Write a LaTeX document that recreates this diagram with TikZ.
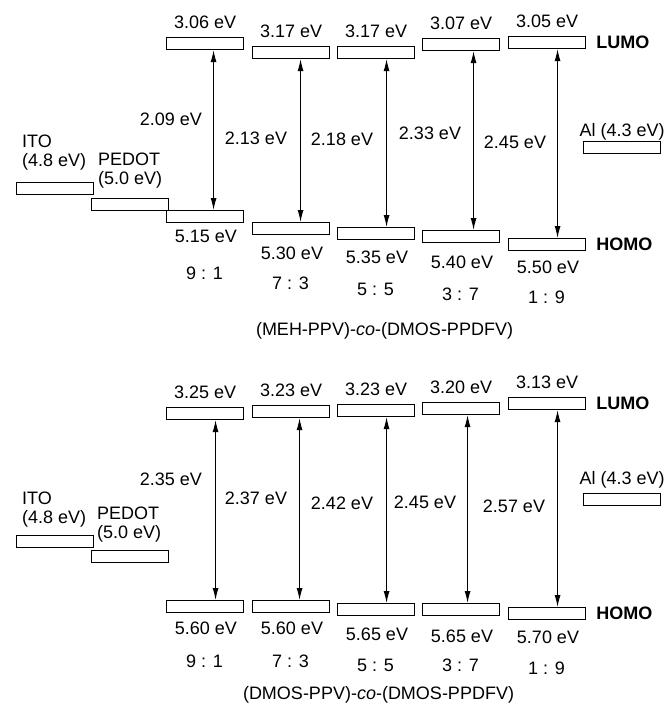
\documentclass[tikz,border=0pt]{standalone}
\usepackage{fontspec}
\setmainfont{Liberation Sans}
\usetikzlibrary{arrows.meta}
\begin{document}
\begin{tikzpicture}[x=1pt,y=-1pt,
	level/.style={ rectangle, draw, line width=1.1pt, inner sep=0pt, minimum width=77pt, minimum height=12pt, anchor=north west },
	energy/.style={ font=\fontsize{18}{19}\selectfont, inner sep=0pt },
	orbital/.style={ font=\fontsize{18}{19}\selectfont\bfseries, inner sep=0pt, anchor=west },
	gap/.style={ line width=1pt, {Latex[length=12pt,width=6pt]}-{Latex[length=12pt,width=6pt]} }
]
\useasboundingbox (0,0) rectangle (669,706);

% upper panel: (MEH-PPV)-co-(DMOS-PPDFV)
\foreach \n/\x/\lu/\ho/\ax/\hy/\ry/\lv/\hv/\r/\gv/\gx/\gy in {
	ua/166/37/210/8.5/236.5/273.5/3.06/5.15/9 : 1/2.09/171/119,
	ub/252/46/222/9.5/253.5/283.5/3.17/5.30/7 : 3/2.13/256/138,
	uc/337/46/227/10.5/257/289/3.17/5.35/5 : 5/2.18/342/139,
	ud/422/38/230/12.5/262/294/3.07/5.40/3 : 7/2.33/430/133,
	ue/508/36/238/10.5/267.5/297.5/3.05/5.50/1 : 9/2.45/515/142}
{
	\node at (\x,\lu) (lumo\n) [level] {};
	\node at (\x,\ho) (homo\n) [level] {};
	\node[energy,anchor=base] (lv\n) at ([yshift=8pt]lumo\n.north) {\lv\ eV};
	\node[energy] (hv\n) at (\x+40,\hy) {\hv\ eV};
	\node[energy] (r\n) at (\x+38.5,\ry) {\r};
	\draw[gap] ([xshift=\ax]lumo\n.south) -- ([xshift=\ax]homo\n.north);
	\node[energy] (g\n) at (\gx,\gy) {\gv\ eV};
}
\node at (16,182) (itou) [level] {};
\node[energy,anchor=north west,align=left] (itotextu) at (22,135) {ITO\\(4.8 eV)};
\node at (91,198) (pedotu) [level] {};
\node[energy,anchor=north west,align=left] (pedottextu) at (98,153) {PEDOT\\(5.0 eV)};
\node at (583,141) (alu) [level] {};
\node[energy,anchor=base] (altextu) at ([yshift=5pt]alu.north) {Al (4.3 eV)};
\node[orbital] (lumotextu) at ([xshift=10pt]lumoue.east) {LUMO};
\node[orbital] (homotextu) at ([xshift=10pt]homoue.east) {HOMO};
\node[energy,anchor=base] (titleu) at (384.5,335) {(MEH-PPV)-\textit{co}-(DMOS-PPDFV)};

% lower panel: (DMOS-PPV)-co-(DMOS-PPDFV)
\foreach \n/\x/\lu/\ho/\ax/\hy/\ry/\lv/\hv/\r/\gv/\gx/\gy in {
	la/166/407/600/10.5/628/661/3.25/5.60/9 : 1/2.35/171/479,
	lb/252/405/600/8.5/628/661/3.23/5.60/7 : 3/2.37/256/498,
	lc/337/404/603/10.5/634/665/3.23/5.65/5 : 5/2.42/342/503,
	ld/422/402/603/6.5/636/665/3.20/5.65/3 : 7/2.45/425/502,
	le/508/397/607/10.5/637/668/3.13/5.70/1 : 9/2.57/514/506}
{
	\node at (\x,\lu) (lumo\n) [level] {};
	\node at (\x,\ho) (homo\n) [level] {};
	\node[energy,anchor=base] (lv\n) at ([yshift=9pt]lumo\n.north) {\lv\ eV};
	\node[energy] (hv\n) at (\x+40,\hy) {\hv\ eV};
	\node[energy] (r\n) at (\x+38.5,\ry) {\r};
	\draw[gap] ([xshift=\ax]lumo\n.south) -- ([xshift=\ax]homo\n.north);
	\node[energy] (g\n) at (\gx,\gy) {\gv\ eV};
}
\node at (16,535) (itol) [level] {};
\node[energy,anchor=north west,align=left] (itotextl) at (22,492) {ITO\\(4.8 eV)};
\node at (91,550) (pedotl) [level] {};
\node[energy,anchor=north west,align=left] (pedottextl) at (97,507) {PEDOT\\(5.0 eV)};
\node at (583,493) (all) [level] {};
\node[energy,anchor=base] (altextl) at ([yshift=9pt]all.north) {Al (4.3 eV)};
\node[orbital] (lumotextl) at ([xshift=10pt]lumole.east) {LUMO};
\node[orbital] (homotextl) at ([xshift=10pt]homole.east) {HOMO};
\node[energy,anchor=base] (titlel) at (378.5,699) {(DMOS-PPV)-\textit{co}-(DMOS-PPDFV)};

\end{tikzpicture}
\end{document}
